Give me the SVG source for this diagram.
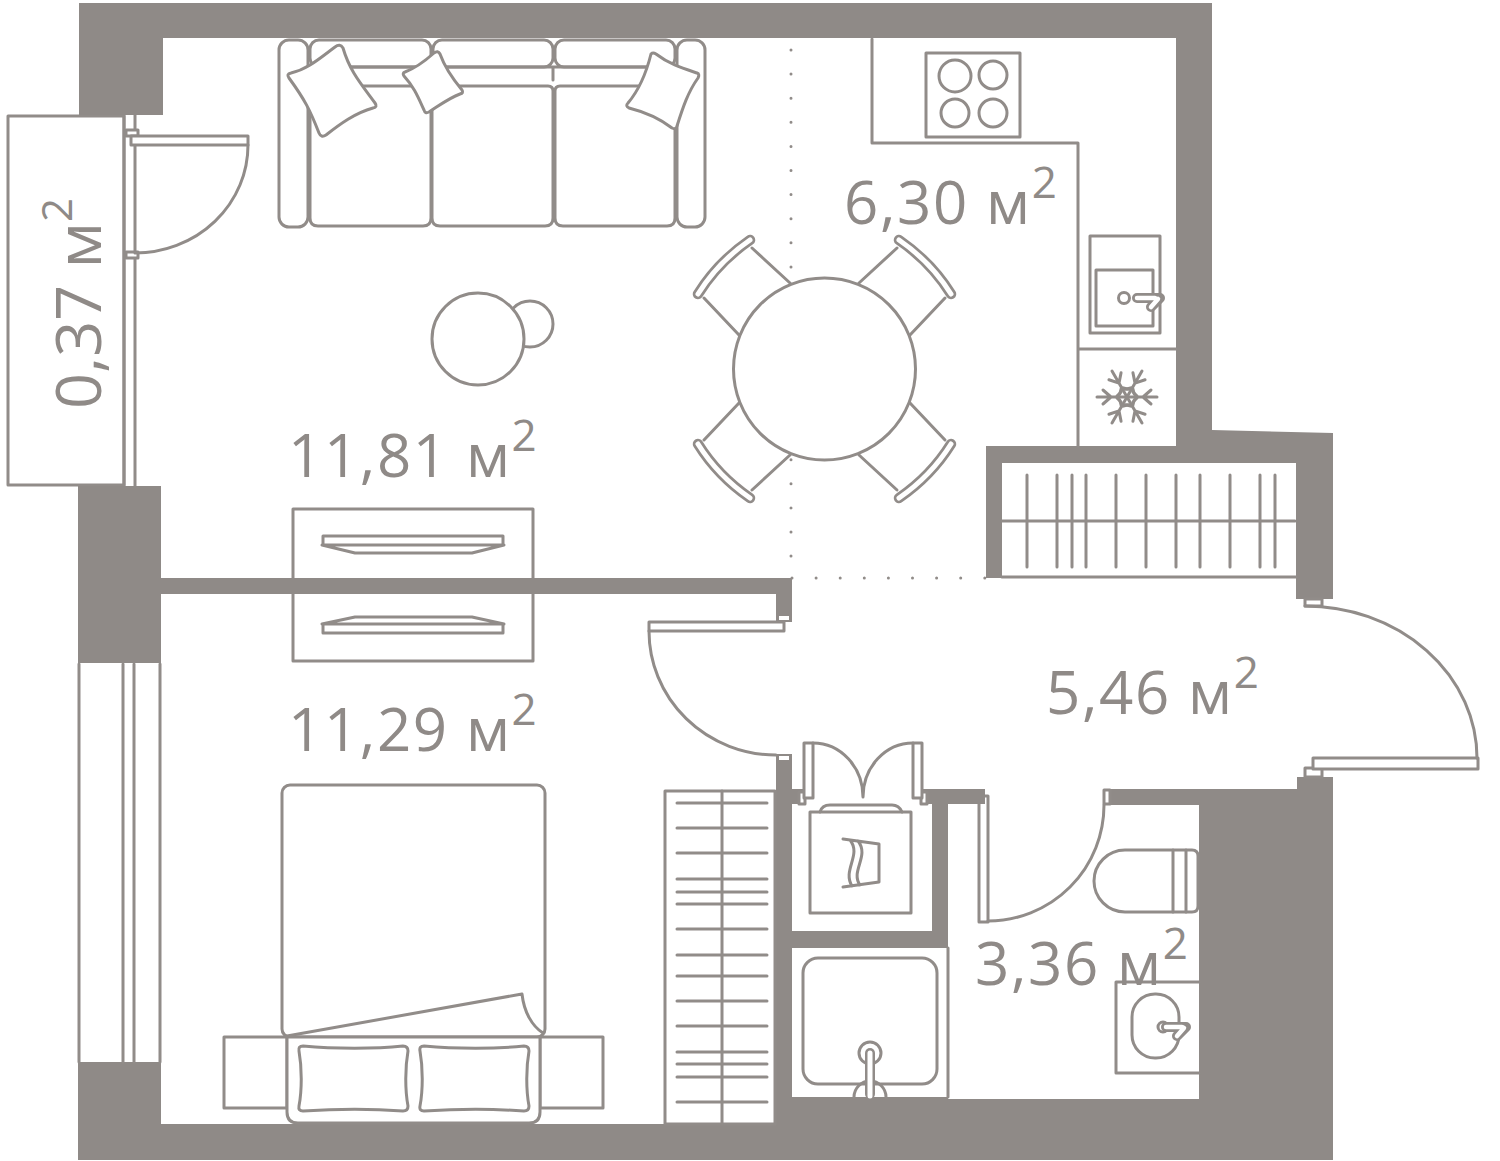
<svg xmlns="http://www.w3.org/2000/svg" width="1500" height="1161" viewBox="0 0 1500 1161">
<style>
.w{fill:#8f8a87;stroke:none}
.l{fill:none;stroke:#918c89;stroke-width:3;stroke-linejoin:round;stroke-linecap:round}
.f{fill:#fff;stroke:#918c89;stroke-width:3;stroke-linejoin:round;stroke-linecap:round}
.t{font-family:"Open Sans","Noto Sans",sans-serif;font-size:60px;letter-spacing:1.6px;fill:#8f8a87}
.r{font-size:63px;letter-spacing:0}
.s{font-size:44px}
</style>
<rect width="1500" height="1161" fill="#fff"/>
<g id="balcony">
<rect class="f" x="8" y="116" width="116" height="369"/>
<path class="l" d="M124 115V486M135 115V486"/>
</g>
<g id="walls">
<path class="w" d="M79 3H1212V430L1333 433V599H1296V463H1002V578H986V446H1176V38H163V115H79Z"/>
<rect class="w" x="78" y="486" width="83" height="177"/>
<rect class="w" x="161" y="578" width="631" height="16"/>
<rect class="w" x="776" y="578" width="16" height="44"/>
<rect class="w" x="78" y="1062" width="83" height="98"/>
<path class="w" d="M78 1124H775V1097H948V1099H1199V805H1110V789H1297V777H1333V1160H78Z"/>
<path class="w" d="M776 754H792V789H803V804H792V1124H776Z"/>
<path class="w" d="M920 789H985V804H948V948H792V931H932V804H920Z"/>
</g>
<g id="window">
<path class="l" d="M79 664V1062M123 664V1062M134 664V1062M160 664V1062"/>
</g>
<g id="zone-dots">
<path d="M791 50V578M792 578H985" fill="none" stroke="#918c89" stroke-width="3" stroke-linecap="round" stroke-dasharray="0 24.1"/>
</g>
<g id="balcony-door">
<rect class="f" x="126" y="130" width="12" height="6"/>
<rect class="f" x="126" y="252" width="12" height="6"/>
<rect class="f" x="131" y="136" width="117" height="9"/>
<path class="l" d="M248 145A113 108 0 0 1 135 253"/>
</g>
<g id="sofa">
<rect class="f" x="279" y="40" width="29" height="187" rx="10"/>
<rect class="f" x="677" y="40" width="28" height="187" rx="10"/>
<rect class="f" x="310" y="40" width="121" height="27" rx="9"/>
<rect class="f" x="433" y="40" width="120" height="27" rx="9"/>
<rect class="f" x="555" y="40" width="120" height="27" rx="9"/>
<path class="l" d="M310 67H675M553 67V80"/>
<path class="f" d="M310 86H426Q431 86 431 91V218Q431 226 423 226H318Q310 226 310 218Z"/>
<path class="f" d="M437 86H548Q553 86 553 91V218Q553 226 545 226H440Q432 226 432 218V91Q432 86 437 86Z"/>
<path class="f" d="M560 86H675V218Q675 226 667 226H563Q555 226 555 218V91Q555 86 560 86Z"/>
<path class="f" d="M335 47Q340 43 343 48C350 72 362 85 375 103Q378 107 373 108C355 113 340 124 326 135Q321 138 319 133C310 110 305 100 289 78Q286 74 291 73C308 69 320 58 335 47Z"/>
<path class="f" d="M434 53Q438 50 440 54C445 68 452 78 462 90Q464 93 460 94C449 98 440 105 429 112Q425 114 424 110C418 97 414 87 404 76Q402 73 405 72C416 68 425 61 434 53Z"/>
<path class="f" d="M651 54Q653 52 656 54C669 64 682 68 697 73Q700 74 698 78C688 92 683 107 677 126Q676 130 672 128C659 118 645 112 629 108Q625 106 628 103C639 90 646 74 651 54Z"/>
</g>
<g id="lamp">
<circle class="f" cx="530" cy="324" r="23"/>
<circle class="f" cx="478" cy="339" r="46"/>
</g>
<g id="dining">
<defs>
<g id="chair">
<path class="l" d="M790 283L752 248M739 335L704 298"/>
<path d="M698 294Q718 262 750 240" fill="none" stroke="#918c89" stroke-width="10.5" stroke-linecap="round"/>
<path d="M698 294Q718 262 750 240" fill="none" stroke="#fff" stroke-width="5" stroke-linecap="round"/>
</g>
</defs>
<use href="#chair"/>
<use href="#chair" transform="translate(1649 0) scale(-1 1)"/>
<use href="#chair" transform="translate(0 738) scale(1 -1)"/>
<use href="#chair" transform="translate(1649 738) scale(-1 -1)"/>
<circle class="f" cx="824.5" cy="369" r="91"/>
</g>
<g id="kitchen">
<path class="l" d="M872 39V143H1078V446M1078 349H1176"/>
<rect class="f" x="926" y="53" width="94" height="84"/>
<circle class="l" cx="955" cy="76" r="16"/><circle class="l" cx="993" cy="75" r="14"/>
<circle class="l" cx="955" cy="113" r="14"/><circle class="l" cx="993" cy="113" r="14"/>
<rect class="f" x="1090" y="236" width="70" height="97"/>
<rect class="f" x="1096" y="270" width="57" height="56"/>
<circle class="f" cx="1124" cy="298" r="5.5"/>
<path d="M1137 298H1160L1151 307" fill="none" stroke="#918c89" stroke-width="10" stroke-linecap="round" stroke-linejoin="round"/>
<path d="M1137 298H1155M1158 299L1151 307" fill="none" stroke="#fff" stroke-width="4.5" stroke-linecap="round"/>
</g>
<g id="fridge" transform="translate(1127 397)">
<g class="l">
<path id="arm" d="M-30 0H30M-24 -7L-16 0L-24 7M24 -7L16 0L24 7M-6 -5L-11 0L-6 5M6 -5L11 0L6 5"/>
<use href="#arm" transform="rotate(60)"/><use href="#arm" transform="rotate(120)"/>
</g>
</g>
<g id="entry-wardrobe">
<path class="l" d="M1002 521H1295M1002 577H1296"/>
<path class="l" d="M1027 475V567M1057 475V567M1072 475V567M1086 475V567M1116 475V567M1146 475V567M1176 475V567M1200 475V567M1230 475V567M1260 475V567M1275 475V567"/>
</g>
<g id="tv-unit">
<rect class="f" x="293" y="509" width="240" height="152"/>
<rect class="w" x="161" y="578" width="631" height="16"/>
<path class="l" d="M323 545V536H503V545M322 545H504L472 553H355Z"/>
<path class="l" d="M323 624V633H503V624M322 624H504L472 617H355Z"/>
</g>
<g id="bedroom-door">
<rect x="779" y="616" width="10" height="4" fill="#fff"/>
<path class="f" d="M649 622H784V631H649Z"/>
<path class="l" d="M649 631A127 124 0 0 0 776 755"/>
<rect x="779" y="756" width="10" height="4" fill="#fff"/>
</g>
<g id="entrance-door">
<rect class="f" x="1305" y="599" width="17" height="7"/>
<rect class="f" x="1305" y="768" width="17" height="9"/>
<path class="f" d="M1313 758H1478V769H1313Z"/>
<path class="l" d="M1305 606A172 152 0 0 1 1477 758"/>
</g>
<g id="bed">
<rect class="f" x="282" y="785" width="263" height="252" rx="8"/>
<path class="l" d="M287 1036L522 994C524 1012 532 1026 543 1033"/>
<rect class="f" x="224" y="1037" width="63" height="71"/>
<rect class="f" x="540" y="1037" width="63" height="71"/>
<path class="f" d="M287 1037H540V1112Q540 1123 529 1123H298Q287 1123 287 1112Z"/>
<path class="f" d="M303 1046C335 1049 375 1049 403 1046Q408 1046 408 1051C405 1068 405 1090 408 1106Q408 1111 403 1111C375 1109 335 1109 303 1111Q298 1111 299 1106C302 1090 302 1068 299 1051Q298 1046 303 1046Z"/>
<path class="f" d="M424 1046C456 1049 496 1049 524 1046Q529 1046 529 1051C526 1068 526 1090 529 1106Q529 1111 524 1111C496 1109 456 1109 424 1111Q419 1111 420 1106C423 1090 423 1068 420 1051Q419 1046 424 1046Z"/>
</g>
<g id="bedroom-wardrobe">
<rect class="f" x="665" y="791" width="110" height="333"/>
<path class="l" d="M722 791V1124M677 803H767M677 828H767M677 853H767M677 879H767M677 892H767M677 904H767M677 929H767M677 955H767M677 976H767M677 1001H767M677 1026H767M677 1052H767M677 1064H767M677 1077H767M677 1102H767"/>
</g>
<g id="laundry">
<rect class="f" x="799" y="792" width="6" height="12"/>
<rect class="f" x="921" y="792" width="6" height="12"/>
<rect class="f" x="804" y="743" width="9" height="55"/>
<rect class="f" x="913" y="743" width="9" height="55"/>
<path class="l" d="M813 743A50 54 0 0 1 863 797A50 54 0 0 1 913 743"/>
<rect class="f" x="810" y="812" width="101" height="101"/>
<path class="l" d="M820 812Q822 805 830 805H892Q899 805 902 812"/>
<path class="l" d="M843 839L879 844V882L843 887M850 840C862 855 842 870 852 886M858 841C870 856 850 871 860 885"/>
</g>
<g id="bath-door">
<path class="f" d="M979 796H988V922H979Z"/>
<path class="l" d="M988 921A116 116 0 0 0 1104 805"/>
<rect class="f" x="1104" y="790" width="6" height="14"/>
<rect class="w" x="948" y="789" width="37" height="15"/>
</g>
<g id="shower">
<path class="l" d="M948 948V1097"/>
<rect class="f" x="803" y="958" width="134" height="126" rx="15"/>
<path class="l" d="M854 1097A16 16 0 0 1 886 1097"/>
<circle class="f" cx="870" cy="1053" r="11"/>
<path d="M870 1053V1094" fill="none" stroke="#918c89" stroke-width="10" stroke-linecap="round"/>
<path d="M870 1053V1096" fill="none" stroke="#fff" stroke-width="5" stroke-linecap="round"/>
</g>
<g id="toilet">
<path class="f" d="M1192 850H1125A31 31 0 0 0 1125 912H1192Q1198 912 1198 906V856Q1198 850 1192 850Z"/>
<path class="l" d="M1173 850V912M1186 850V912"/>
</g>
<g id="basin">
<path class="f" d="M1199 982H1116V1073H1199"/>
<rect class="f" x="1132" y="994" width="47" height="64" rx="23"/>
<circle class="f" cx="1163" cy="1027" r="5"/>
<path d="M1166 1027H1186L1177 1036" fill="none" stroke="#918c89" stroke-width="10" stroke-linecap="round" stroke-linejoin="round"/>
<path d="M1166 1027H1182M1184 1028L1177 1036" fill="none" stroke="#fff" stroke-width="4.5" stroke-linecap="round"/>
</g>
<g id="labels">
<text class="t" x="844" y="224">6,30 м<tspan class="s" dy="-26">2</tspan></text>
<text class="t" x="288" y="477">11,81 м<tspan class="s" dy="-26">2</tspan></text>
<text class="t" x="288" y="751">11,29 м<tspan class="s" dy="-26">2</tspan></text>
<text class="t" x="1046" y="714">5,46 м<tspan class="s" dy="-26">2</tspan></text>
<text class="t" x="975" y="985">3,36 м<tspan class="s" dy="-26">2</tspan></text>
<text class="t r" transform="translate(101 409) rotate(-90)">0,37 м<tspan class="s" dy="-29" style="font-size:42px">2</tspan></text>
</g>
</svg>
